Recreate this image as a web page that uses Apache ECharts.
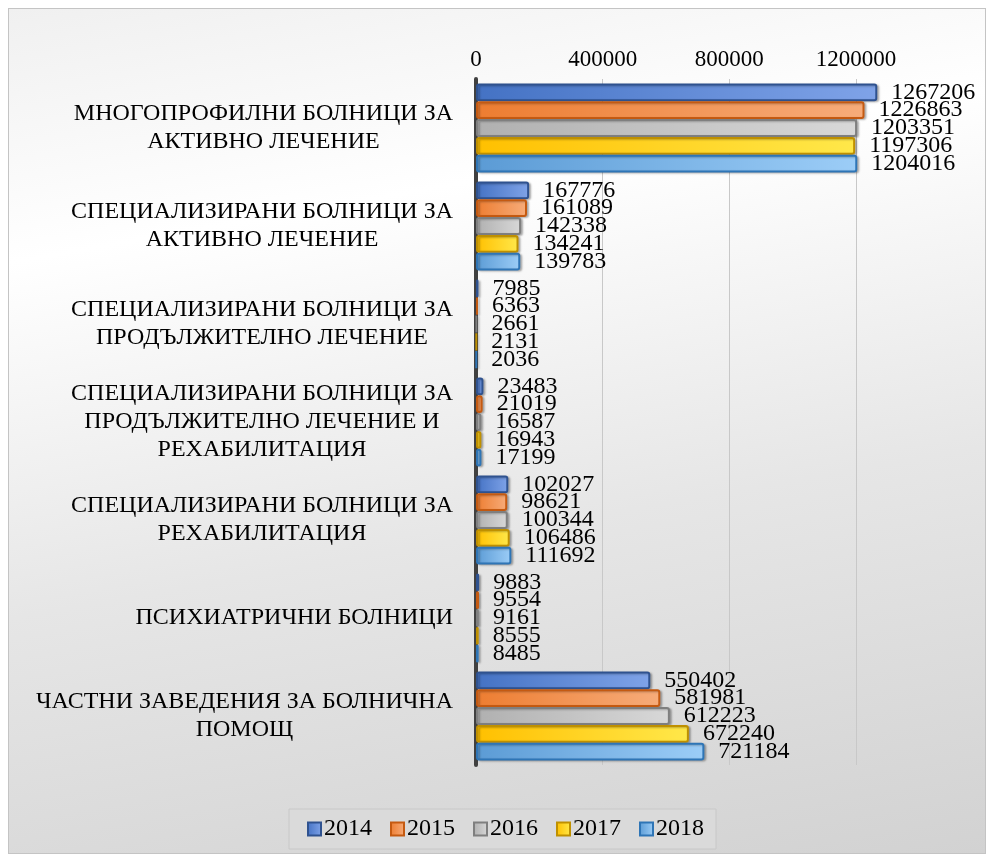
<!DOCTYPE html>
<html>
<head>
<meta charset="utf-8">
<script src="https://cdn.jsdelivr.net/npm/echarts@6/dist/echarts.min.js"></script>
<style>
  html, body { margin: 0; padding: 0; background: #fff; }
  #chart {
    position: absolute; left: 8px; top: 8px;
    width: 976px; height: 844px;
    border: 1px solid #c4c4c4;
    background: linear-gradient(170deg, #f0f0f0 0%, #ffffff 25%, #e6e6e6 60%, #d2d2d2 100%);
  }
</style>
</head>
<body>
<div id="chart"></div>
<script>
/* hospital categories, top to bottom */
const categories = [
    'МНОГОПРОФИЛНИ БОЛНИЦИ ЗА\nАКТИВНО ЛЕЧЕНИЕ',
    'СПЕЦИАЛИЗИРАНИ БОЛНИЦИ ЗА\nАКТИВНО ЛЕЧЕНИЕ',
    'СПЕЦИАЛИЗИРАНИ БОЛНИЦИ ЗА\nПРОДЪЛЖИТЕЛНО ЛЕЧЕНИЕ',
    'СПЕЦИАЛИЗИРАНИ БОЛНИЦИ ЗА\nПРОДЪЛЖИТЕЛНО ЛЕЧЕНИЕ И\nРЕХАБИЛИТАЦИЯ',
    'СПЕЦИАЛИЗИРАНИ БОЛНИЦИ ЗА\nРЕХАБИЛИТАЦИЯ',
    'ПСИХИАТРИЧНИ БОЛНИЦИ',
    'ЧАСТНИ ЗАВЕДЕНИЯ ЗА БОЛНИЧНА\nПОМОЩ'
];

const years = ['2014', '2015', '2016', '2017', '2018'];

const v2014 = [1267206, 167776, 7985, 23483, 102027, 9883, 550402];
const v2015 = [1226863, 161089, 6363, 21019, 98621, 9554, 581981];
const v2016 = [1203351, 142338, 2661, 16587, 100344, 9161, 612223];
const v2017 = [1197306, 134241, 2131, 16943, 106486, 8555, 672240];
const v2018 = [1204016, 139783, 2036, 17199, 111692, 8485, 721184];

const xTicks = [0, 400000, 800000, 1200000];

const values = [v2014, v2015, v2016, v2017, v2018];
const colors = ['#4472C4', '#ED7D31', '#b0b0b0', '#FFC000', '#5B9BD5'];
const lights = ['#7fa3e8', '#f7ac7a', '#d8d8d8', '#ffe84a', '#9ccdf7'];
const borders = ['#2f528f', '#c55a11', '#7f7f7f', '#bf9000', '#2e75b6'];

const font = "'Liberation Serif', 'Times New Roman', serif";

let chartDom = document.getElementById('chart');
let myChart = echarts.init(chartDom);

let option = {
    textStyle: { fontFamily: font },
    animation: false,
    grid: {
        left: 467,
        right: 129,
        top: 70,
        bottom: 88,
        containLabel: false,
    },
    legend: {
        bottom: 4,
        left: 280,
        data: years,
        icon: 'rect',
        itemWidth: 13,
        itemHeight: 13,
        itemGap: 18,
        padding: [8, 12, 8, 18],
        backgroundColor: '#dadada',
        borderColor: '#c8c8c8',
        borderWidth: 1,
        textStyle: { fontFamily: font, fontSize: 24, color: '#000', padding: [0, 0, 0, -2] },
    },
    xAxis: {
        type: 'value',
        position: 'top',
        min: 0,
        max: 1200000,
        interval: 400000,
        axisLine: { show: false },
        axisTick: { show: false },
        axisLabel: {
            fontFamily: font,
            fontSize: 23,
            color: '#000',
            margin: 8,
            customValues: xTicks,
            formatter: (v) => String(v),
        },
        splitLine: { lineStyle: { color: '#c8c8c8', width: 1 } },
    },
    yAxis: {
        type: 'category',
        inverse: true,
        data: categories,
        axisLine: { show: true, lineStyle: { color: '#404040', width: 4 } },
        axisTick: { show: false },
        axisLabel: {
            align: 'right',
            margin: 23,
            // block right-aligned, each line centred inside the block
            formatter: (v) => v.split('\n').map(l => '{c|' + l + '}').join('\n'),
            rich: {
                c: {
                    align: 'center',
                    fontFamily: font,
                    fontSize: 24,
                    lineHeight: 28,
                    color: '#000',
                },
            },
        },
    },
    series: years.map((y, i) => ({
        name: y,
        type: 'bar',
        data: values[i],
        barGap: '0%',
        barCategoryGap: '9%',
        clip: false,
        itemStyle: {
            color: new echarts.graphic.LinearGradient(0, 0, 1, 0, [
                { offset: 0, color: colors[i] },
                { offset: 1, color: lights[i] },
            ]),
            borderColor: borders[i],
            borderWidth: 2,
            borderRadius: 2,
            shadowColor: 'rgba(0,0,0,0.25)',
            shadowBlur: 2,
            shadowOffsetX: 2,
            shadowOffsetY: 1,
        },
        label: {
            show: true,
            position: 'right',
            distance: 14,
            fontFamily: font,
            fontSize: 24,
            color: '#000',
            lineHeight: 16,
        },
        z: 10 + i,
    })),
};

option && myChart.setOption(option);

window.addEventListener('resize', () => {
    myChart.resize();
});
</script>
</body>
</html>
